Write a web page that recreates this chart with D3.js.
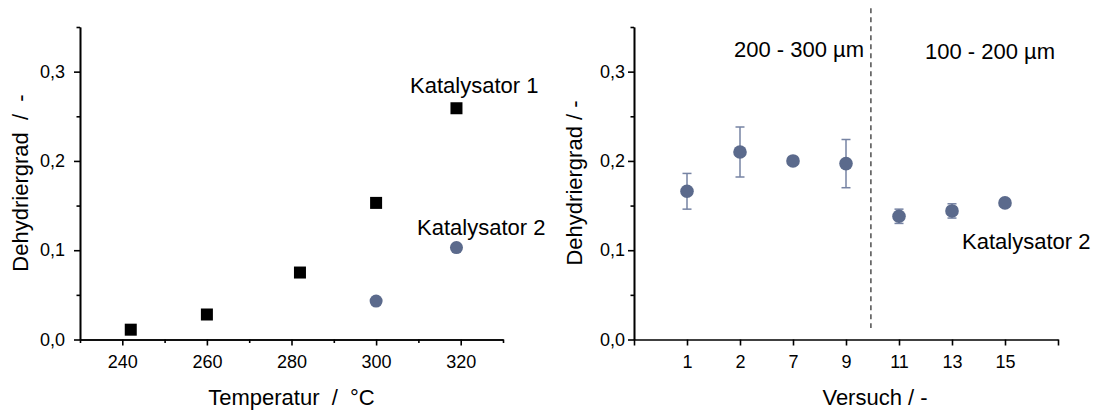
<!DOCTYPE html>
<html>
<head>
  <meta charset="UTF-8">
  <title>Dehydriergrad</title>
  <script src="https://cdn.jsdelivr.net/npm/d3@7"></script>
</head>
<style type="text/css">
  body { margin: 0; background: #fff; }
  svg text { font-family: "Liberation Sans", Arial, sans-serif; fill: #000; }
  .tick text { font-size: 18px; }
  .title { font-size: 22px; white-space: pre; }
  .note { font-size: 22px; }
  .domain, .tick line { stroke: #000; stroke-width: 1.6; }
</style>
<body>
<svg id="chart" width="1100" height="410"></svg>
<script type="text/javascript">
// Left panel: Dehydriergrad over temperature
var kat1Temp = [242, 260, 282, 300, 319];
var kat1Value = [0.011, 0.028, 0.075, 0.153, 0.259];
var kat2Temp = [300, 319];
var kat2Value = [0.043, 0.103];

// Right panel: runs of Katalysator 2
var runLabels = ["1", "2", "7", "9", "11", "13", "15"];
var runValue = [0.166, 0.210, 0.200, 0.197, 0.138, 0.144, 0.153];
var runError = [0.020, 0.028, 0, 0.027, 0.008, 0.008, 0];
var divider = 4.47; // between run 9 and 11

var yMajor = [0, 0.1, 0.2, 0.3];
var yMinor = [0.05, 0.15, 0.25, 0.35];
var tMajor = [240, 260, 280, 300, 320];
var tMinor = [230, 250, 270, 290, 310, 330];

var blue = "#5b6a8c";
var svg = d3.select("#chart");
var comma = function(d) { return d3.format(".1f")(d).replace(".", ","); };

// shared y scales
var yLeft = d3.scaleLinear().domain([0, 0.35]).range([339.5, 27]);
var yRight = yLeft.copy();

// ---------- left chart ----------
var xT = d3.scaleLinear().domain([230, 330]).range([80, 503]);

var gl = svg.append("g");

gl.append("g").attr("transform", "translate(0,339.5)")
  .call(d3.axisBottom(xT).tickValues(tMinor).tickSize(3.5).tickFormat("").tickSizeOuter(0));
gl.append("g").attr("transform", "translate(0,339.5)")
  .call(d3.axisBottom(xT).tickValues(tMajor).tickSize(6).tickPadding(10).tickSizeOuter(0));
gl.append("g").attr("transform", "translate(80,0)")
  .call(d3.axisLeft(yLeft).tickValues(yMinor).tickSize(3.5).tickFormat("").tickSizeOuter(0));
gl.append("g").attr("transform", "translate(80,0)")
  .call(d3.axisLeft(yLeft).tickValues(yMajor).tickSize(6).tickPadding(9).tickFormat(comma).tickSizeOuter(0));

// squares (Katalysator 1)
gl.selectAll("rect.k1")
  .data(kat1Temp)
  .enter().append("rect")
  .attr("class", "k1")
  .attr("x", function(d) { return xT(d) - 6; })
  .attr("y", function(d, i) { return yLeft(kat1Value[i]) - 6; })
  .attr("width", 12)
  .attr("height", 12)
  .attr("fill", "#000");

// circles (Katalysator 2)
gl.selectAll("circle.k2")
  .data(kat2Temp)
  .enter().append("circle")
  .attr("class", "k2")
  .attr("cx", function(d) { return xT(d); })
  .attr("cy", function(d, i) { return yLeft(kat2Value[i]); })
  .attr("r", 6.5)
  .attr("fill", blue);

gl.append("text").attr("class", "note").attr("x", 410).attr("y", 93).text("Katalysator 1");
gl.append("text").attr("class", "note").attr("x", 417).attr("y", 235).text("Katalysator 2");

gl.append("text").attr("class", "title")
  .attr("x", 291.5).attr("y", 405).attr("text-anchor", "middle")
  .text("Temperatur  /  °C");
gl.append("text").attr("class", "title")
  .attr("transform", "translate(28,183) rotate(-90)").attr("text-anchor", "middle")
  .text("Dehydriergrad  /  -");

// ---------- right chart ----------
var xR = d3.scaleLinear().domain([0, 8]).range([634, 1058]);
var gr = svg.append("g");

gr.append("g").attr("transform", "translate(0,339.5)")
  .call(d3.axisBottom(xR).tickValues(d3.range(0, 9)).tickSize(6).tickPadding(10).tickSizeOuter(0)
    .tickFormat(function(d) { return runLabels[d - 1] || ""; }));
gr.append("g").attr("transform", "translate(634,0)")
  .call(d3.axisLeft(yRight).tickValues(yMinor).tickSize(3.5).tickFormat("").tickSizeOuter(0));
gr.append("g").attr("transform", "translate(634,0)")
  .call(d3.axisLeft(yRight).tickValues(yMajor).tickSize(6).tickPadding(3).tickFormat(comma).tickSizeOuter(0));

// dashed divider
gr.append("line")
  .attr("x1", xR(divider)).attr("x2", xR(divider))
  .attr("y1", yRight(0.371)).attr("y2", yRight(0.013))
  .attr("stroke", "#333").attr("stroke-width", 1.3)
  .attr("stroke-dasharray", "5,4");

// error bars (runs with a visible error only)
var runs = runValue.map(function(v, i) {
  return { pos: i + 1, value: v, err: runError[i] };
});
var eb = gr.selectAll("g.err")
  .data(runs.filter(function(r) { return r.err > 0; }))
  .enter().append("g")
  .attr("class", "err")
  .attr("stroke", "#7683a3")
  .attr("stroke-width", 1.5);

eb.append("line")
  .attr("x1", function(r) { return xR(r.pos); })
  .attr("x2", function(r) { return xR(r.pos); })
  .attr("y1", function(r) { return yRight(r.value + r.err); })
  .attr("y2", function(r) { return yRight(r.value - r.err); });
eb.append("line")
  .attr("x1", function(r) { return xR(r.pos) - 4.5; })
  .attr("x2", function(r) { return xR(r.pos) + 4.5; })
  .attr("y1", function(r) { return yRight(r.value + r.err); })
  .attr("y2", function(r) { return yRight(r.value + r.err); });
eb.append("line")
  .attr("x1", function(r) { return xR(r.pos) - 4.5; })
  .attr("x2", function(r) { return xR(r.pos) + 4.5; })
  .attr("y1", function(r) { return yRight(r.value - r.err); })
  .attr("y2", function(r) { return yRight(r.value - r.err); });

gr.selectAll("circle.run")
  .data(runs)
  .enter().append("circle")
  .attr("class", "run")
  .attr("cx", function(r) { return xR(r.pos); })
  .attr("cy", function(r) { return yRight(r.value); })
  .attr("r", 6.8)
  .attr("fill", blue);

gr.append("text").attr("class", "note").attr("x", 734).attr("y", 57).text("200 - 300 µm");
gr.append("text").attr("class", "note").attr("x", 925).attr("y", 59).text("100 - 200 µm");
gr.append("text").attr("class", "note").attr("x", 962).attr("y", 249).text("Katalysator 2");

gr.append("text").attr("class", "title")
  .attr("x", 875).attr("y", 405).attr("text-anchor", "middle")
  .text("Versuch / -");
gr.append("text").attr("class", "title")
  .attr("transform", "translate(582,183) rotate(-90)").attr("text-anchor", "middle")
  .text("Dehydriergrad / -");
</script>
</body>
</html>
